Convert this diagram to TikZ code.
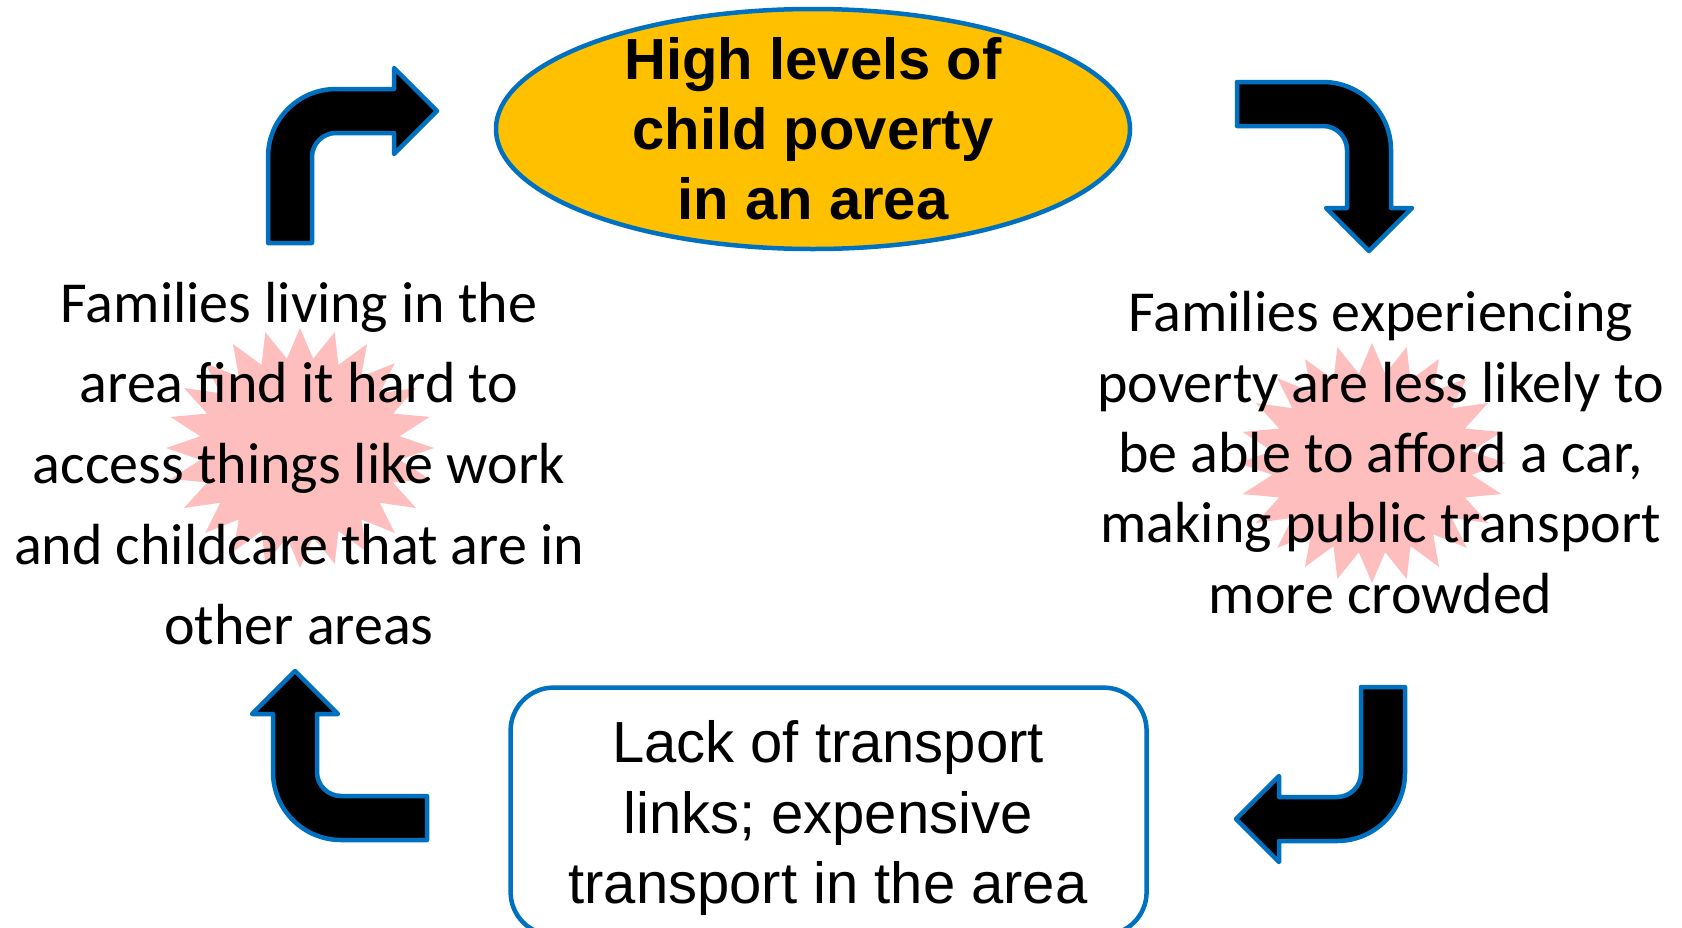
\documentclass[tikz,border=0pt]{standalone}
\usepackage{fontspec}
\usetikzlibrary{shapes.geometric}
\newfontfamily\bodyfont{Carlito}
\newfontfamily\headfont{Liberation Sans}
\definecolor{edgeblue}{RGB}{0,112,192}
\definecolor{gold}{RGB}{255,192,0}
\definecolor{burstpink}{RGB}{255,190,190}

\tikzset{
  arrowbody/.style={fill=black, draw=edgeblue, line width=4.5pt, line join=round},
  % bent block arrow: leg going down, head pointing right, bend at the origin
  bentarrow/.pic={
    \path[arrowbody] (-22,-132) -- (-22,-46) arc[start angle=180, end angle=90, radius=68]
      -- (104,22) -- (104,43) -- (147,0) -- (104,-43) -- (104,-22) -- (46,-22)
      arc[start angle=90, end angle=180, radius=24] -- (22,-132) -- cycle;
  },
  sidetext/.style={align=center, inner sep=0pt, text=black},
  headtext/.style={align=center, inner sep=0pt, text=black}
}

\newcommand{\burst}[2]{%
  \fill[burstpink, shift={(#1,#2)}] plot[samples at={0,...,47}, variable=\k]
    ({134*(1-0.25*mod(\k,2))*cos(90+7.5*\k)}, {120*(1-0.25*mod(\k,2))*sin(90+7.5*\k)}) -- cycle;}

\begin{document}
\begin{tikzpicture}[x=1pt, y=1pt]
\useasboundingbox (0,0) rectangle (1682,-927);
\fill[white] (0,0) rectangle (1682,-927);

% pink starbursts behind the side texts
\burst{300}{-448}
\burst{1372}{-463}

% central issue
\node[ellipse, draw=edgeblue, fill=gold, line width=4.5pt, minimum width=634, minimum height=240,
      inner sep=0pt] (povertyshape) at (813,-129) {};
\node[headtext, font=\headfont\bfseries\fontsize{58}{70}\selectfont]
  (poverty) at (813,-129) {High levels of\\child poverty\\in an area};

% consequences
\node[sidetext, font=\bodyfont\fontsize{58}{70.3}\selectfont] (car) at (1380.6,-452.6)
  {Families experiencing\\poverty are less likely to\\be able to afford a car,\\making public transport\\more crowded};

\node[draw=edgeblue, line width=4.5pt, rounded corners=43, minimum width=636, minimum height=247.4,
      inner sep=0pt] (lackbox) at (828.6,-811.3) {};
\node[headtext, font=\headfont\fontsize{58}{70.8}\selectfont] (lack) at (828,-818)
  {Lack of transport\\links; expensive\\transport in the area};

\node[sidetext, font=\bodyfont\fontsize{58}{80.7}\selectfont] (access) at (299,-463.6)
  {Families living in the\\area find it hard to\\access things like work\\and childcare that are in\\other areas};

% cycle arrows
\pic at (290,-111) {bentarrow};
\pic[rotate=-90] at (1369,-104) {bentarrow};
\pic[rotate=180] at (1383,-819) {bentarrow};
\pic[rotate=90] at (295,-818) {bentarrow};
\end{tikzpicture}
\end{document}
